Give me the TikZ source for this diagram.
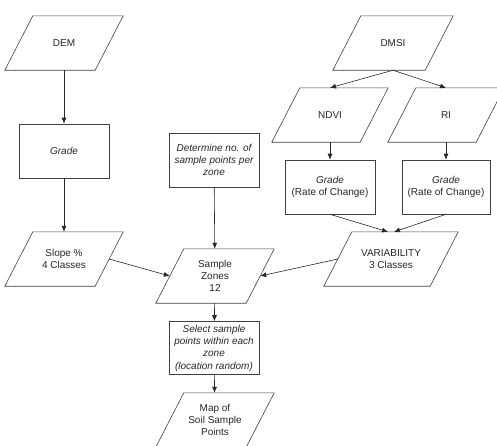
\documentclass[tikz,border=0pt]{standalone}
\usepackage{fontspec}
\setmainfont{Liberation Sans}
\usetikzlibrary{calc,arrows.meta}
\begin{document}
\begin{tikzpicture}[x=1pt, y=-1pt,
        font=\fontsize{10}{12.3}\selectfont,
        every node/.style={inner sep=0pt, align=center, text=black!85},
        para/.style={minimum width=90pt, minimum height=54pt},
        outline/.style={draw=black!75, line width=0.6pt},
        box/.style={outline, minimum width=90pt, minimum height=54pt},
        link/.style={-{Latex[length=6pt,width=5pt]}, draw=black!85, line width=0.6pt}]
        \useasboundingbox (0,0) rectangle (497,445);
        \node[para] (dem) at (64,43) {DEM};
        \node[box] (grade) at (64,151) {\itshape Grade};
        \node[para] (slope) at (64,259) {Slope \%\\4 Classes};
        \node[box] (det) at (214,160) {\itshape Determine no. of\\\itshape sample points per\\\itshape zone};
        \node[para] (zones) at (215,276) {Sample\\Zones\\12};
        \node[box, minimum height=53pt] (sel) at (214,348) {\itshape Select sample\\\itshape points within each\\\itshape zone\\\itshape (location random)};
        \node[para] (map) at (215,420) {Map of\\Soil Sample\\Points};
        \node[para, minimum width=92pt] (dmsi) at (393,43) {DMSI};
        \node[para, minimum width=88pt] (ndvi) at (330,115) {NDVI};
        \node[para, minimum width=88pt] (ri) at (446,115) {RI};
        \node[box] (rocl) at (330,187) {\itshape Grade\\(Rate of Change)};
        \node[box, minimum width=88pt] (rocr) at (446,187) {\itshape Grade\\(Rate of Change)};
        \node[para, minimum width=106pt] (var) at (391,259) {VARIABILITY\\3 Classes};
        \foreach \n in {dem,slope,zones,map,dmsi,ndvi,ri,var} {
            \draw[outline] ($(\n.north west)+(14,0)$) -- ($(\n.north east)+(14,0)$)
                -- ($(\n.south east)+(-14,0)$) -- ($(\n.south west)+(-14,0)$) -- cycle;
        }
        \draw[link] (dem) -- (grade);
        \draw[link] (grade) -- (slope);
        \draw[link] (det) -- (zones);
        \draw[link] (slope.east) -- (zones.west);
        \draw[link] (var.west) -- (zones.east);
        \draw[link] (dmsi.south) -- (ndvi.north);
        \draw[link] (dmsi.south) -- (ri.north);
        \draw[link] (ndvi) -- (rocl);
        \draw[link] (ri) -- (rocr);
        \draw[link] (rocl.south) -- ([xshift=-3pt]var.north);
        \draw[link] (rocr.south) -- ([xshift=3pt]var.north);
        \draw[link] (zones) -- (sel);
        \draw[link] (sel) -- (map);
    \end{tikzpicture}
\end{document}
